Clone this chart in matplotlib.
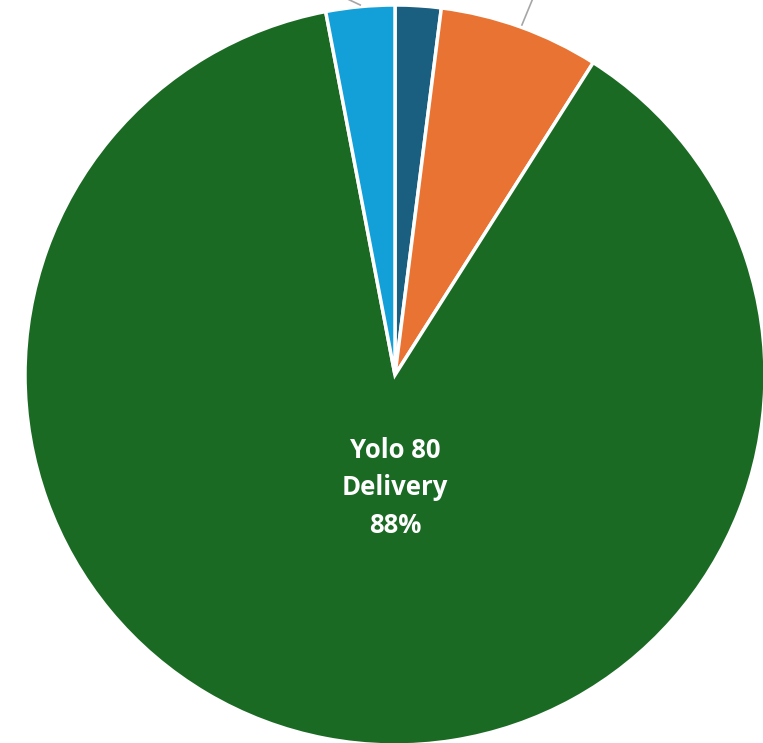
import matplotlib.pyplot as plt

# slice data, clockwise from 12 o'clock
labels = ["", "", "Yolo 80\nDelivery\n88%", ""]
values = [2, 7, 88, 3]
colors = ["#1A5E80", "#E97333", "#1B6A24", "#139FD8"]

fig = plt.figure(figsize=(7.63, 7.43), dpi=100)
ax = fig.add_axes([0, 0, 1, 1])

wedges, _ = ax.pie(values, radius=1.0, startangle=90, counterclock=False,
                   colors=colors,
                   wedgeprops=dict(edgecolor="white", linewidth=2.5))

# label for the big slice
ax.text(0.0, -0.305, labels[2], ha="center", va="center", color="white",
        fontsize=18.5, fontweight="bold", family=["Open Sans", "DejaVu Sans"],
        linespacing=1.5)

# leader lines for the small slices (their labels sit above the crop)
ax.plot([-0.094, -0.20], [1.0, 1.05], color="#A6A6A6", lw=1.2)
ax.plot([0.343, 0.39], [0.946, 1.06], color="#A6A6A6", lw=1.2)

# pixel mapping: center at (395, 375), radius 370 px
ax.set_xlim(-395 / 370, (763 - 395) / 370)
ax.set_ylim((375 - 743) / 370, 375 / 370)
ax.set_aspect("auto")
ax.axis("off")

fig.savefig("out.png", dpi=100)
